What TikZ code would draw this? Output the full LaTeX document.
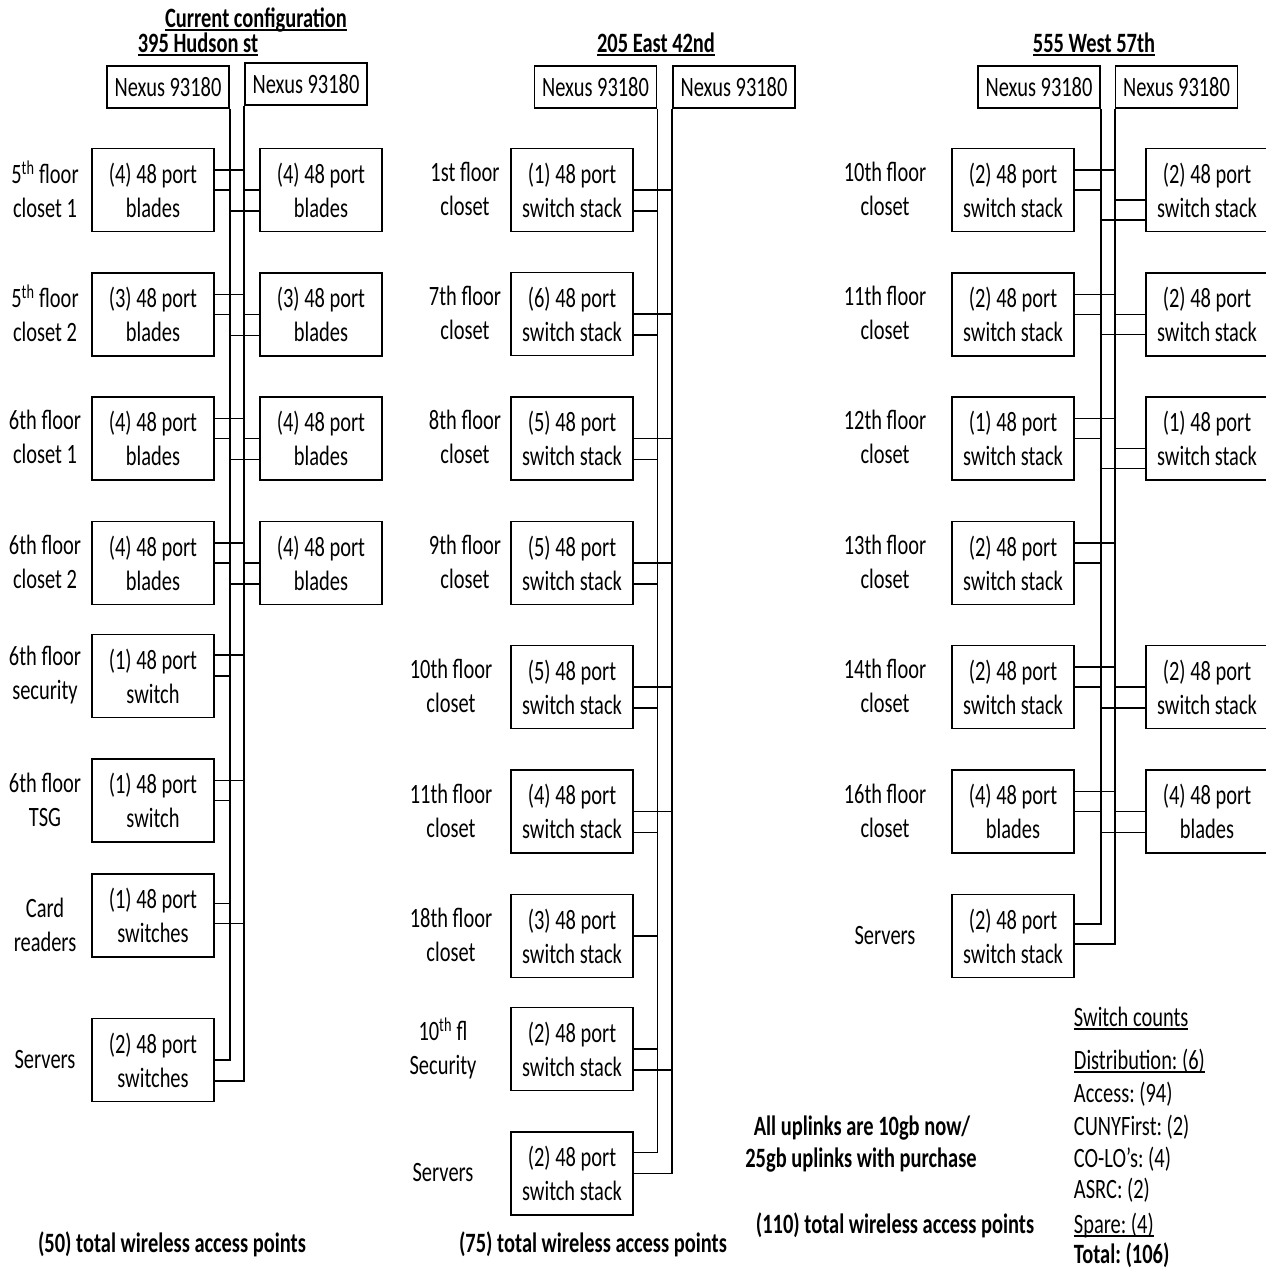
\documentclass[tikz,border=0pt]{standalone}
\usepackage{fontspec}
\setmainfont{Carlito}[FakeStretch=0.73]
\newcommand\lkL[3]{\draw ([yshift=#2pt]#1.east) -- ([yshift=#2pt]#1.east -| #3);}
\newcommand\lkR[3]{\draw ([yshift=#2pt]#1.west) -- ([yshift=#2pt]#1.west -| #3);}
\newcommand\myul[1]{\setbox0\hbox{#1}\rlap{\rule[-3.5pt]{\wd0}{1.6pt}}\box0}
\frenchspacing
\begin{document}
\begin{tikzpicture}[x=1pt,y=-1pt,line width=1.9pt,
  every node/.style={font=\fontsize{28}{34}\selectfont},
  box/.style={draw,minimum width=122pt,minimum height=83pt,inner sep=0pt,align=center},
  nex/.style={draw,minimum width=122pt,minimum height=42pt,inner sep=0pt},
  lbl/.style={align=center,inner sep=0pt},
  txt/.style={inner sep=0pt,anchor=base},
  btxt/.style={inner sep=0pt,anchor=base,font=\fontsize{28}{34}\selectfont\bfseries},
  ltxt/.style={inner sep=0pt,anchor=base west}]
\fill[white] (0,0) rectangle (1266,1270);
\useasboundingbox (0,0) rectangle (1266,1270);

% ---------- titles ----------
\node[btxt] (t0) at (256,27) {\myul{Current configuration}};
\node[btxt] (t1) at (198,52) {\myul{395 Hudson st}};
\node[btxt] (t2) at (656,52) {\myul{205 East 42nd}};
\node[btxt] (t3) at (1094,52) {\myul{555 West 57th}};

% ---------- Nexus ----------
\node[nex] (n1a) at (168,87) {Nexus 93180};
\node[nex] (n1b) at (306,84) {Nexus 93180};
\node[nex] (n2a) at (595.5,87) {Nexus 93180};
\node[nex] (n2b) at (734,87) {Nexus 93180};
\node[nex] (n3a) at (1039,87) {Nexus 93180};
\node[nex] (n3b) at (1176.5,87) {Nexus 93180};

% ---------- 395 Hudson ----------
\node[box] (L1) at (153,190) {(4) 48 port\\blades};
\node[box] (L2) at (153,314.5) {(3) 48 port\\blades};
\node[box] (L3) at (153,438.5) {(4) 48 port\\blades};
\node[box] (L4) at (153,563) {(4) 48 port\\blades};
\node[box] (L5) at (153,676) {(1) 48 port\\switch};
\node[box] (L6) at (153,800.5) {(1) 48 port\\switch};
\node[box] (L7) at (153,915.5) {(1) 48 port\\switches};
\node[box] (L8) at (153,1060) {(2) 48 port\\switches};
\node[box] (R1) at (321,190) {(4) 48 port\\blades};
\node[box] (R2) at (321,314.5) {(3) 48 port\\blades};
\node[box] (R3) at (321,438.5) {(4) 48 port\\blades};
\node[box] (R4) at (321,563) {(4) 48 port\\blades};

\node[lbl] (a1) at (45,189) {5\textsuperscript{th} floor\\closet 1};
\node[lbl] (a2) at (45,313) {5\textsuperscript{th} floor\\closet 2};
\node[lbl] (a3) at (45,437) {6th floor\\closet 1};
\node[lbl] (a4) at (45,562) {6th floor\\closet 2};
\node[lbl] (a5) at (45,675) {6th floor\\security};
\node[lbl] (a6) at (45,800) {6th floor\\TSG};
\node[lbl] (a7) at (45,925) {Card\\readers};
\node[lbl] (a8) at (45,1060) {Servers};

\foreach \k in {1,2,3,4}{
  \lkL{L\k}{20}{n1b.south west}
  \lkL{L\k}{0}{n1a.south east}
  \lkR{R\k}{0}{n1b.south west}
  \lkR{R\k}{-21}{n1a.south east}
}
\lkL{L5}{21}{n1b.south west}
\lkL{L5}{0}{n1a.south east}
\lkL{L6}{20}{n1b.south west}
\lkL{L6}{0}{n1a.south east}
\lkL{L7}{12}{n1a.south east}
\lkL{L7}{-8}{n1b.south west}
\draw (n1a.south east) |- (L8.east);
\draw (n1b.south west) |- ([yshift=-21pt]L8.east);

% ---------- 205 East 42nd ----------
\node[box] (M1) at (572,190) {(1) 48 port\\switch stack};
\node[box] (M2) at (572,314) {(6) 48 port\\switch stack};
\node[box] (M3) at (572,438.5) {(5) 48 port\\switch stack};
\node[box] (M4) at (572,563) {(5) 48 port\\switch stack};
\node[box] (M5) at (572,687) {(5) 48 port\\switch stack};
\node[box] (M6) at (572,811.5) {(4) 48 port\\switch stack};
\node[box] (M7) at (572,936) {(3) 48 port\\switch stack};
\node[box] (M8) at (572,1049) {(2) 48 port\\switch stack};
\node[box] (M9) at (572,1173.5) {(2) 48 port\\switch stack};

\node[lbl] (b1) at (465,189) {1st floor\\closet};
\node[lbl] (b2) at (465,313) {7th floor\\closet};
\node[lbl] (b3) at (465,437) {8th floor\\closet};
\node[lbl] (b4) at (465,562) {9th floor\\closet};
\node[lbl] (b5) at (451,686) {10th floor\\closet};
\node[lbl] (b6) at (451,811) {11th floor\\closet};
\node[lbl] (b7) at (451,935) {18th floor\\closet};
\node[lbl] (b8) at (443,1048) {10\textsuperscript{th} fl\\Security};
\node[lbl] (b9) at (443,1173) {Servers};

\foreach \k in {1,...,6}{
  \lkL{M\k}{0}{n2b.south west}
  \lkL{M\k}{-21}{n2a.south east}
}
\lkL{M7}{0}{n2a.south east}
\lkL{M8}{0}{n2a.south east}
\lkL{M8}{-21}{n2b.south west}
\draw (n2a.south east) |- ([yshift=21pt]M9.east);
\draw (n2b.south west) |- (M9.east);

% ---------- 555 West 57th ----------
\node[box] (E1) at (1013,190) {(2) 48 port\\switch stack};
\node[box] (E2) at (1013,314.5) {(2) 48 port\\switch stack};
\node[box] (E3) at (1013,438.5) {(1) 48 port\\switch stack};
\node[box] (E4) at (1013,563) {(2) 48 port\\switch stack};
\node[box] (E5) at (1013,687) {(2) 48 port\\switch stack};
\node[box] (E6) at (1013,811.5) {(4) 48 port\\blades};
\node[box] (E7) at (1013,936) {(2) 48 port\\switch stack};
\node[box] (F1) at (1207,190) {(2) 48 port\\switch stack};
\node[box] (F2) at (1207,314.5) {(2) 48 port\\switch stack};
\node[box] (F3) at (1207,438.5) {(1) 48 port\\switch stack};
\node[box] (F5) at (1207,687) {(2) 48 port\\switch stack};
\node[box] (F6) at (1207,811.5) {(4) 48 port\\blades};

\node[lbl] (c1) at (885,189) {10th floor\\closet};
\node[lbl] (c2) at (885,313) {11th floor\\closet};
\node[lbl] (c3) at (885,437) {12th floor\\closet};
\node[lbl] (c4) at (885,562) {13th floor\\closet};
\node[lbl] (c5) at (885,686) {14th floor\\closet};
\node[lbl] (c6) at (885,811) {16th floor\\closet};
\node[lbl] (c7) at (885,936) {Servers};

\foreach \k in {1,...,6}{
  \lkL{E\k}{20}{n3b.south west}
  \lkL{E\k}{0}{n3a.south east}
}
\lkR{F1}{-10}{n3b.south west}
\lkR{F1}{-30}{n3a.south east}
\lkR{F2}{0}{n3b.south west}
\lkR{F2}{-20}{n3a.south east}
\lkR{F3}{-10}{n3b.south west}
\lkR{F3}{-30}{n3a.south east}
\lkR{F5}{0}{n3b.south west}
\lkR{F5}{-21}{n3a.south east}
\lkR{F6}{0}{n3b.south west}
\lkR{F6}{-21}{n3a.south east}
\draw (n3a.south east) |- ([yshift=12pt]E7.east);
\draw (n3b.south west) |- ([yshift=-8pt]E7.east);

% ---------- bottom texts ----------
\node[btxt] (w1) at (172,1252) {(50) total wireless access points};
\node[btxt] (w2) at (593,1252) {(75) total wireless access points};
\node[btxt] (u1) at (862,1135) {All uplinks are 10gb now/};
\node[btxt] (u2) at (861,1167) {25gb uplinks with purchase};
\node[btxt] (w3) at (895,1233) {(110) total wireless access points};

\node[ltxt] (s0) at (1073,1026) {\myul{Switch counts}};
\node[ltxt] (s1) at (1073,1069) {\myul{Distribution: (6)}};
\node[ltxt] (s2) at (1073,1102) {Access: (94)};
\node[ltxt] (s3) at (1073,1135) {CUNYFirst: (2)};
\node[ltxt] (s4) at (1073,1167) {CO-LO’s: (4)};
\node[ltxt] (s5) at (1073,1198) {ASRC: (2)};
\node[ltxt] (s6) at (1073,1233) {\myul{Spare: (4)}};
\node[ltxt,font=\fontsize{28}{34}\selectfont\bfseries] (s7) at (1073,1263) {Total: (106)};
\end{tikzpicture}
\end{document}
